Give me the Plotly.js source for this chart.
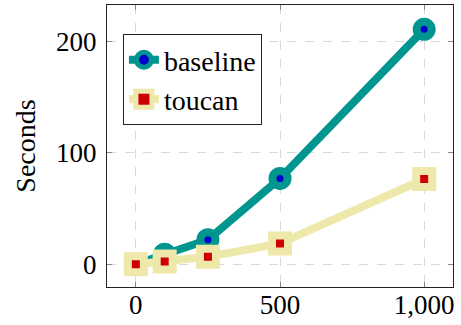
<!DOCTYPE html>
<html>
<head>
<meta charset="utf-8">
<script src="https://cdn.plot.ly/plotly-3.0.1.min.js"></script>
<style>
html,body{margin:0;padding:0;background:#fff;}
#chart{width:461px;height:325px;}
</style>
</head>
<body>
<div id="chart"></div>
<script>
const xValues = [0, 100, 250, 500, 1000];
const baselineSeconds = [0, 9, 22, 77, 211];
const toucanSeconds = [0, 2.4, 6.6, 18.6, 76.4];
const seriesNames = ["baseline", "toucan"];
const xTickVals = [0, 500, 1000];
const xTickText = ["0", "500", "1,000"];
const yTickVals = [0, 100, 200];
const yTickText = ["0", "100", "200"];

const teal = "#00968f";
const khaki = "#eee8aa";
const font = "'Liberation Serif', 'Times New Roman', serif";

const traces = [
  {
    x: xValues, y: baselineSeconds, name: seriesNames[0],
    type: "scatter", mode: "lines+markers",
    line: {color: teal, width: 8},
    marker: {symbol: "circle", size: 15, color: "#0000cc", line: {color: teal, width: 8}}
  },
  {
    x: xValues, y: toucanSeconds, name: seriesNames[1],
    type: "scatter", mode: "lines+markers",
    line: {color: khaki, width: 8},
    marker: {symbol: "square", size: 16, color: "#cc0000", line: {color: khaki, width: 8}}
  }
];

const axisCommon = {
  showline: true, mirror: "ticks", linecolor: "#222", linewidth: 1,
  ticks: "inside", ticklen: 5, tickcolor: "#888", tickwidth: 1,
  showgrid: true, gridcolor: "#d9d9d9", gridwidth: 1, griddash: "dash",
  zeroline: false,
  tickfont: {family: font, size: 27, color: "#000"}
};

const layout = {
  width: 461, height: 325,
  margin: {l: 107, r: 8, t: 5, b: 38},
  paper_bgcolor: "#fff", plot_bgcolor: "#fff",
  font: {family: font, color: "#000"},
  showlegend: true,
  legend: {
    x: 0.046, y: 0.897, xanchor: "left", yanchor: "top",
    bgcolor: "#fff", bordercolor: "#222", borderwidth: 1,
    font: {family: font, size: 28, color: "#000"},
    tracegroupgap: 0
  },
  xaxis: Object.assign({}, axisCommon, {
    range: [-100, 1100],
    tickmode: "array", tickvals: xTickVals, ticktext: xTickText,
    ticklabelstandoff: -6
  }),
  yaxis: Object.assign({}, axisCommon, {
    range: [-20.5, 232.8],
    tickmode: "array", tickvals: yTickVals, ticktext: yTickText,
    ticklabelstandoff: 4,
    title: {text: "Seconds", font: {family: font, size: 28, color: "#000"}, standoff: 12}
  })
};

Plotly.newPlot("chart", traces, layout, {displayModeBar: false, staticPlot: true});
</script>
</body>
</html>
